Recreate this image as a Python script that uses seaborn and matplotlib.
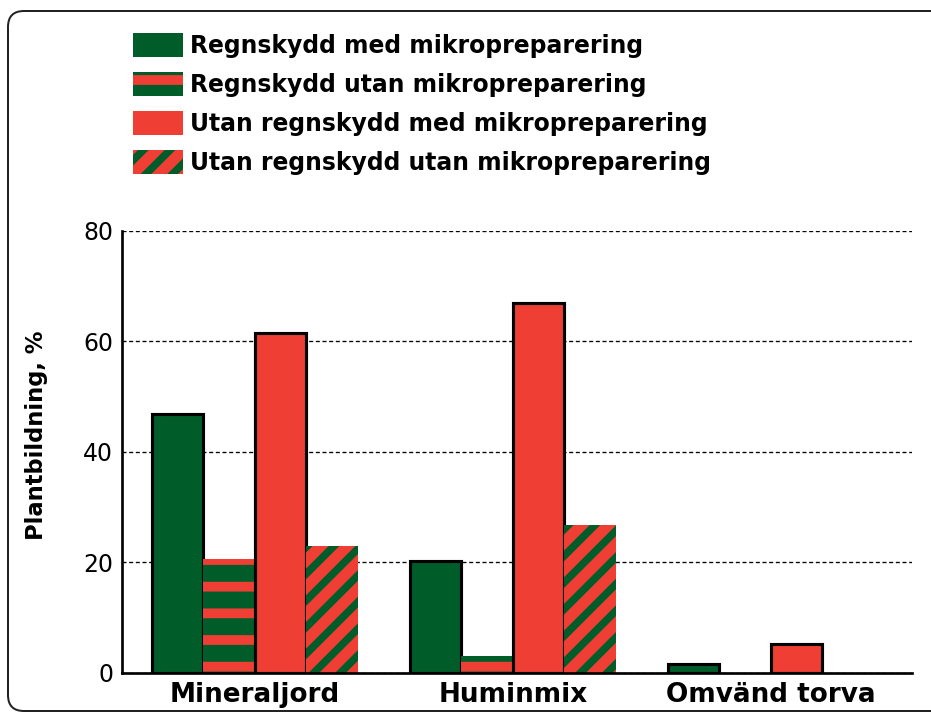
import numpy as np
import pandas as pd
import matplotlib
matplotlib.use("Agg")
import matplotlib.pyplot as plt
import seaborn as sns
from matplotlib.patches import Patch, FancyBboxPatch
from matplotlib.transforms import IdentityTransform

# ---- data ----
categories = ["Mineraljord", "Huminmix", "Omvänd torva"]
series = [
    "Regnskydd med mikropreparering",
    "Regnskydd utan mikropreparering",
    "Utan regnskydd med mikropreparering",
    "Utan regnskydd utan mikropreparering",
]
regn_med = [46.8, 20.1, 1.5]
regn_utan = [20.5, 2.9, 0.0]
utan_med = [61.4, 66.9, 5.2]
utan_utan = [22.9, 26.7, 0.0]
yticks = [0, 20, 40, 60, 80]
ylabel = "Plantbildning, %"

GREEN = "#005C29"
RED = "#EF3E33"

df = pd.DataFrame({
    "Jord": categories * 4,
    "Behandling": np.repeat(series, len(categories)),
    "Plantbildning": regn_med + regn_utan + utan_med + utan_utan,
})

DPI = 160
W, H = 931, 713
sns.set_style("white")
plt.rcParams['font.family'] = ['DejaVu Sans']
plt.rcParams['text.color'] = 'black'
plt.rcParams['hatch.linewidth'] = 7.6

fig = plt.figure(figsize=(W / DPI, H / DPI), dpi=DPI)
ax = fig.add_axes([122 / W, 1 - 672.5 / H, (912 - 122) / W, (672.5 - 230.7) / H])

palette = {series[0]: GREEN, series[1]: RED, series[2]: RED, series[3]: RED}
sns.barplot(data=df, x="Jord", y="Plantbildning", hue="Behandling",
            order=categories, hue_order=series, palette=palette,
            saturation=1, width=0.8, errorbar=None, legend=False, ax=ax)

STRIPE_LW = 7.6
DIAG_LW = 3.4

# styling of the four series
for i, cont in enumerate(ax.containers):
    for bar in cont:
        if i in (0, 2):
            bar.set_edgecolor("black")
            bar.set_linewidth(1.4)
        elif i == 1:
            bar.set_facecolor(RED)
            bar.set_edgecolor(GREEN)
            bar.set_linewidth(0)
            bar.set_hatch("-")
            if hasattr(bar, "set_hatch_linewidth"):
                bar.set_hatch_linewidth(STRIPE_LW)
        else:
            bar.set_facecolor(RED)
            bar.set_edgecolor(GREEN)
            bar.set_linewidth(0)
            bar.set_hatch("//")
            if hasattr(bar, "set_hatch_linewidth"):
                bar.set_hatch_linewidth(DIAG_LW)

ax.set_ylim(0, 80)
ax.set_xlim(-0.515, 2.547)
ax.set_yticks(yticks)
ax.set_xlabel("")
ax.set_ylabel("")
ax.yaxis.grid(True, color="black", linestyle=(0, (3, 2)), linewidth=0.6)
ax.xaxis.grid(False)
ax.set_axisbelow(True)
for s in ("top", "right"):
    ax.spines[s].set_visible(False)
for s in ("left", "bottom"):
    ax.spines[s].set_color("black")
    ax.spines[s].set_linewidth(1.2)

ax.tick_params(axis="y", length=0, pad=4, labelsize=10.6, labelcolor="black")
ax.tick_params(axis="x", which="major", length=0, pad=4.5, labelsize=11.8, labelcolor="black")
for lab in ax.get_xticklabels():
    lab.set_fontweight("bold")
ax.set_xticks([0.5, 1.5], minor=True)
ax.tick_params(axis="x", which="minor", direction="in", length=9, width=1.3, color="black")

fig.text(37 / W, 1 - 435 / H, ylabel, rotation=90, ha="center", va="center",
         fontsize=10.2, fontweight="bold", color="black")

# legend
def legend_patch(face, hatch=None, hlw=None):
    p = Patch(facecolor=face, edgecolor=GREEN if hatch else face, hatch=hatch, linewidth=0)
    if hlw is not None and hasattr(p, "set_hatch_linewidth"):
        p.set_hatch_linewidth(hlw)
    return p

handles = [
    legend_patch(GREEN),
    legend_patch(RED, "-", STRIPE_LW),
    legend_patch(RED),
    legend_patch(RED, "//", DIAG_LW),
]
fs = 10.6
fpx = fs * DPI / 72
leg = fig.legend(handles, series, loc="upper left", bbox_to_anchor=(133 / W, 1 - 33 / H),
                 frameon=False, prop={"weight": "bold", "size": fs}, labelcolor="black",
                 handlelength=50 / fpx, handleheight=28 / fpx, handletextpad=7 / fpx,
                 labelspacing=0.6, borderpad=0, borderaxespad=0)
for h in leg.legend_handles:
    if not hasattr(h, "set_hatch_linewidth"):
        continue
    if h.get_hatch() == "-":
        h.set_hatch_linewidth(STRIPE_LW)
    elif h.get_hatch() == "//":
        h.set_hatch_linewidth(DIAG_LW)

# outer rounded border
border = FancyBboxPatch((8, 2), 1000, 700, boxstyle="round,pad=0,rounding_size=16",
                        transform=IdentityTransform(), fill=False, edgecolor="#222222",
                        linewidth=0.9)
fig.add_artist(border)

fig.savefig("out.png", dpi=DPI)
